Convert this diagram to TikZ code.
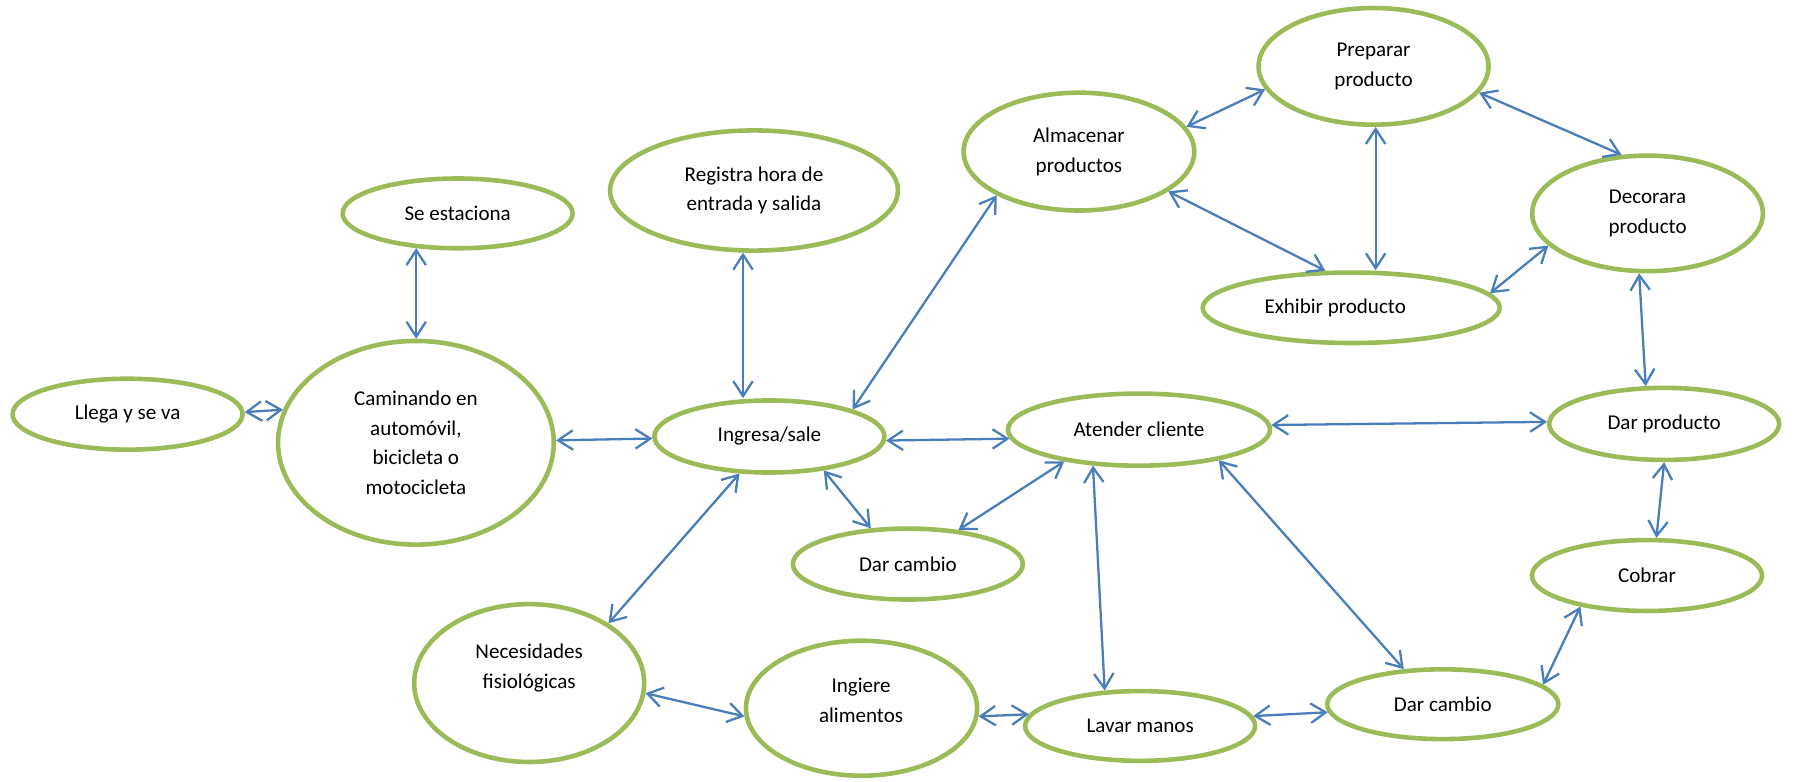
\documentclass[tikz,border=0pt]{standalone}
\usepackage{fontspec}
\setmainfont{Carlito}
\usetikzlibrary{arrows.meta,shapes.geometric}
\definecolor{ovalgreen}{HTML}{9BBB59}
\definecolor{linkblue}{HTML}{4A7EBB}
\begin{document}
\begin{tikzpicture}[x=1pt,y=-1pt,
  oval/.style={ellipse, draw=ovalgreen, line width=4pt, inner sep=0pt, fill=white,
    font=\fontsize{18.4}{26}\selectfont, align=center},
  lbl/.style={font=\fontsize{18.4}{26}\selectfont, align=center, inner sep=0pt},
  link/.style={draw=linkblue, line width=2pt,
    {Straight Barb[length=13pt,width=17pt]}-{Straight Barb[length=13pt,width=17pt]}}]
\useasboundingbox[fill=white] (0,0) rectangle (1568,683);

\node[oval, minimum width=201pt, minimum height=61pt] (se) at (400,186.5) {Se estaciona};
\node[oval, minimum width=251.6pt, minimum height=105pt] (reg) at (659,166.5) {Registra hora de\\entrada y salida};
\node[oval, minimum width=201.6pt, minimum height=103pt] (alm) at (943,132.5) {Almacenar\\productos};
\node[oval, minimum width=201pt, minimum height=102pt] (prep) at (1200.5,58) {Preparar\\producto};
\node[oval, minimum width=201.6pt, minimum height=101pt] (deco) at (1440,186.5) {Decorara\\producto};
\node[oval, minimum width=259.6pt, minimum height=61.6pt] (exh) at (1181,269) {};
\node[lbl] (exh-t) at (1167,269) {Exhibir producto};
\node[oval, minimum width=201pt, minimum height=62pt] (llega) at (111.5,362) {Llega y se va};
\node[oval, minimum width=241pt, minimum height=178pt] (cam) at (363.5,387) {Caminando en\\automóvil,\\bicicleta o\\motocicleta};
\node[oval, minimum width=201pt, minimum height=138pt] (nec) at (462.5,597) {};
\node[lbl] (nec-t) at (462.5,584) {Necesidades\\fisiológicas};
\node[oval, minimum width=201pt, minimum height=63pt] (ing) at (672.5,381.5) {Ingresa/sale};
\node[oval, minimum width=229pt, minimum height=63pt] (ate) at (995.5,375.5) {Atender cliente};
\node[oval, minimum width=201pt, minimum height=62pt] (dc1) at (793.5,493) {Dar cambio};
\node[oval, minimum width=202pt, minimum height=118pt] (ingi) at (753,619) {};
\node[lbl] (ingi-t) at (752.6,612) {Ingiere\\alimentos};
\node[oval, minimum width=201pt, minimum height=61pt] (lav) at (996.5,634.5) {Lavar manos};
\node[oval, minimum width=201pt, minimum height=63pt] (dp) at (1454.5,370.5) {Dar producto};
\node[oval, minimum width=201pt, minimum height=62pt] (cob) at (1439.5,503) {Cobrar};
\node[oval, minimum width=202pt, minimum height=61pt] (dc2) at (1261,615.5) {Dar cambio};

\draw[link] (llega.1) -- (cam.166);
\draw[link] (se.220.4) -- (se.220.4 |- cam.north);
\draw[link] (reg.260.3) -- (reg.260.3 |- ing.north);
\draw[link] (ing.18) -- (alm.208);
\draw[link] (cam.1.4) -- (ing.181.3);
\draw[link] (ing.358.6) -- (ate.184.2);
\draw[link] (ing.328) -- (dc1.136.3);
\draw[link] (ate.203.9) -- (dc1.34.7);
\draw[link] (ing.231.5) -- (nec.37.6);
\draw[link] (nec.355.7) -- (ingi.184);
\draw[link] (ingi.356.6) -- (lav.174.7);
\draw[link] (ate.218.9) -- (lav.135.3);
\draw[link] (lav.5.8) -- (dc2.184.7);
\draw[link] (ate.339) -- (dc2.138.9);
\draw[link] (ate.2.7) -- (dp.179);
\draw[link] (dp.270) -- (cob.76.4);
\draw[link] (cob.205.9) -- (dc2.11.2);
\draw[link] (deco.262.4) -- (dp.116.2);
\draw[link] (prep.346.7) -- (deco.114);
\draw[link] (prep.272.8) -- (prep.272.8 |- exh.north);
\draw[link] (exh.6.9) -- (deco.198.6);
\draw[link] (alm.13.9) -- (prep.192);
\draw[link] (alm.336.4) -- (exh.125.4);
\end{tikzpicture}
\end{document}
